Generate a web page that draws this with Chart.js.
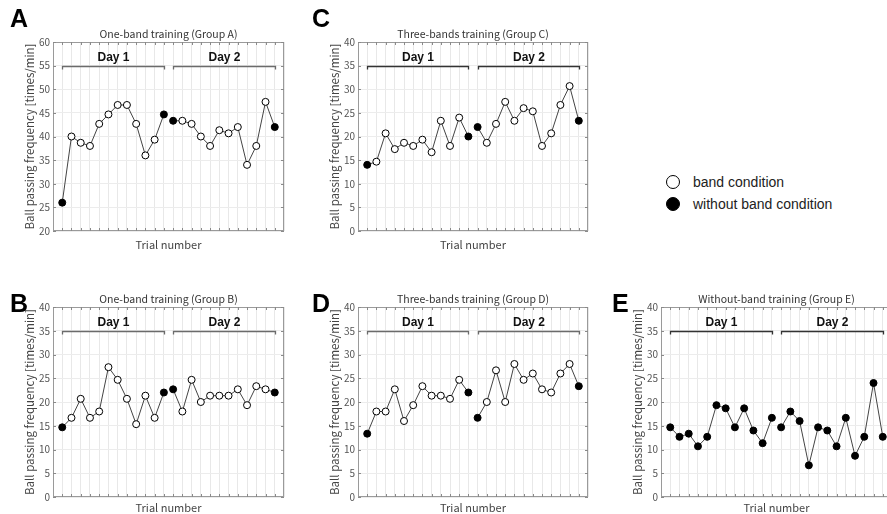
<!DOCTYPE html>
<html><head><meta charset="utf-8">
<script src="https://cdn.jsdelivr.net/npm/chart.js@4.4.0/dist/chart.umd.min.js"></script>
<style>
html,body{margin:0;padding:0;background:#fff;width:887px;height:514px;overflow:hidden;position:relative;}
canvas{position:absolute;}
.leg{position:absolute;left:666px;font-family:"Liberation Sans",Arial,sans-serif;font-size:14px;color:#222;line-height:16px;}
.dot{position:absolute;left:0;top:0;width:12px;height:12px;border-radius:50%;border:1px solid #000;box-sizing:content-box;}
.leg span.t{position:absolute;left:27px;top:-1px;white-space:nowrap;}
</style></head><body>
<div class="leg" style="top:175px"><div class="dot" style="background:#fff"></div><span class="t">band condition</span></div>
<div class="leg" style="top:197px"><div class="dot" style="background:#000"></div><span class="t">without band condition</span></div>
<script>
// ---- data ----
const day1Trials = [1,2,3,4,5,6,7,8,9,10,11,12];
const day2Trials = [13,14,15,16,17,18,19,20,21,22,23,24];
const dayLabels = ["Day 1","Day 2"];
const ticksA = [20,25,30,35,40,45,50,55,60];
const ticksOther = [0,5,10,15,20,25,30,35,40];

const groupA = [26,40,38.67,38,42.67,44.67,46.67,46.67,42.67,36,39.33,44.67,
                43.33,43.33,42.67,40,38,41.33,40.67,42,34,38,47.33,42];
const groupB = [14.67,16.67,20.67,16.67,18,27.33,24.67,20.67,15.33,21.33,16.67,22,
                22.67,18,24.67,20,21.33,21.33,21.33,22.67,19.33,23.33,22.67,22];
const groupC = [14,14.67,20.67,17.33,18.67,18,19.33,16.67,23.33,18,24,20,
                22,18.67,22.67,27.33,23.33,26,25.33,18,20.67,26.67,30.67,23.33];
const groupD = [13.33,18,18,22.67,16,19.33,23.33,21.33,21.33,20.67,24.67,22,
                16.67,20,26.67,20,28,24.67,26,22.67,22,26,28,23.33];
const groupE = [14.67,12.67,13.33,10.67,12.67,19.33,18.67,14.67,18.67,14,11.33,16.67,
                14.67,18,16,6.67,14.67,14,10.67,16.67,8.67,12.67,24,12.67];

// trials performed without the band (filled markers)
const withoutBandABCD = [1,12,13,24];
const withoutBandE = [1,2,3,4,5,6,7,8,9,10,11,12,13,14,15,16,17,18,19,20,21,22,23,24];

const panels = [
  {letter:"A", title:"One-band training (Group A)", values:groupA, filled:withoutBandABCD, yTicks:ticksA, bracket:55, box:{L:53,R:284,T:42,B:231}, xGap:14, bracketColor:"#6b6b6b"},
  {letter:"C", title:"Three-bands training (Group C)", values:groupC, filled:withoutBandABCD, yTicks:ticksOther, bracket:35, box:{L:358,R:588,T:42,B:231}, xGap:14, bracketColor:"#333"},
  {letter:"B", title:"One-band training (Group B)", values:groupB, filled:withoutBandABCD, yTicks:ticksOther, bracket:35, box:{L:53,R:284,T:307,B:497}, xGap:11, bracketColor:"#6b6b6b"},
  {letter:"D", title:"Three-bands training (Group D)", values:groupD, filled:withoutBandABCD, yTicks:ticksOther, bracket:35, box:{L:358,R:588,T:307,B:497}, xGap:11, bracketColor:"#6b6b6b"},
  {letter:"E", title:"Without-band training (Group E)", values:groupE, filled:withoutBandE, yTicks:ticksOther, bracket:35, box:{L:661,R:892,T:307,B:497}, xGap:11, bracketColor:"#333"}
];

const PADL = 53, PADT = 42, PADB = 28, PADR = 6;
const LABEL_FONT = '"Noto Sans CJK JP","DejaVu Sans",sans-serif';

const decor = {
  id: 'decor',
  afterDraw(chart) {
    const p = chart.options.plugins.decor;
    const {ctx, chartArea: a, scales: {x, y}} = chart;
    ctx.save();
    // frame
    ctx.strokeStyle = '#9a9a9a'; ctx.lineWidth = 1;
    ctx.strokeRect(Math.round(a.left)+0.5, Math.round(a.top)+0.5, Math.round(a.right-a.left)-1, Math.round(a.bottom-a.top)-1);
    // inner ticks
    ctx.strokeStyle = '#8a8a8a';
    ctx.beginPath();
    for (const t of day1Trials.concat(day2Trials)) {
      const px = Math.round(x.getPixelForValue(t)) + 0.5;
      ctx.moveTo(px, a.bottom); ctx.lineTo(px, a.bottom - 3);
      ctx.moveTo(px, a.top); ctx.lineTo(px, a.top + 3);
    }
    for (const v of p.yTicks) {
      const py = Math.round(y.getPixelForValue(v)) + 0.5;
      ctx.moveTo(a.left, py); ctx.lineTo(a.left + 3, py);
      ctx.moveTo(a.right, py); ctx.lineTo(a.right - 3, py);
    }
    ctx.stroke();
    // title
    ctx.fillStyle = '#333';
    ctx.font = '10.5px ' + LABEL_FONT;
    ctx.textAlign = 'center'; ctx.textBaseline = 'alphabetic';
    ctx.fillText(p.title, (a.left + a.right) / 2, a.top - 4);
    // panel letter
    ctx.fillStyle = '#000';
    ctx.font = 'bold 25px "Liberation Sans", Arial, sans-serif';
    ctx.textAlign = 'left';
    ctx.fillText(p.letter, p.letterX, p.letterY);
    // day brackets
    const by = Math.round(y.getPixelForValue(p.bracket)) + 0.5;
    const groups = [day1Trials, day2Trials];
    ctx.strokeStyle = p.bracketColor; ctx.lineWidth = 1.3;
    groups.forEach((g, i) => {
      const x0 = Math.round(x.getPixelForValue(g[0])) + 0.5;
      const x1 = Math.round(x.getPixelForValue(g[g.length-1])) + 0.5;
      ctx.beginPath();
      ctx.moveTo(x0, by + 3); ctx.lineTo(x0, by); ctx.lineTo(x1, by); ctx.lineTo(x1, by + 3);
      ctx.stroke();
      ctx.fillStyle = '#111';
      ctx.font = 'bold 12px "Liberation Sans", Arial, sans-serif';
      ctx.textAlign = 'center';
      ctx.fillText(dayLabels[i], (x0 + x1) / 2, by - 6);
    });
    ctx.restore();
  }
};

function pts(trials, vals) { return trials.map((t, i) => ({x: t, y: vals[i]})); }

panels.forEach(pn => {
  const b = pn.box;
  const cv = document.createElement('canvas');
  const cl = b.L - PADL, ct = b.T - PADT;
  const w = b.R - b.L + PADL + PADR, h = b.B - b.T + PADT + PADB;
  cv.width = w; cv.height = h;
  cv.style.left = cl + 'px'; cv.style.top = ct + 'px';
  cv.style.width = w + 'px'; cv.style.height = h + 'px';
  document.body.appendChild(cv);
  const letterPos = {A:[10,27], C:[312,27], B:[10,312], D:[312,312], E:[612,312]}[pn.letter];
  const v1 = pn.values.slice(0, 12), v2 = pn.values.slice(12);
  const mk = (trials) => ({
    pointBackgroundColor: trials.map(t => pn.filled.includes(t) ? '#000' : '#fff'),
    pointBorderColor: '#000'
  });
  const dsBase = {borderColor: '#444', borderWidth: 1, pointRadius: 3.5, pointBorderWidth: 1, pointHoverRadius: 3.5, tension: 0, fill: false};
  const xTitleFont = 11, xLH = xTitleFont * 1.2;
  const yTitleFont = 11.5, yLH = yTitleFont * 1.2;
  new Chart(cv, {
    type: 'line',
    data: {
      datasets: [
        Object.assign({label: dayLabels[0], data: pts(day1Trials, v1)}, dsBase, mk(day1Trials)),
        Object.assign({label: dayLabels[1], data: pts(day2Trials, v2)}, dsBase, mk(day2Trials))
      ]
    },
    options: {
      responsive: false, animation: false, devicePixelRatio: 1,
      layout: {padding: {top: PADT, left: 0, right: PADR, bottom: 0}},
      plugins: {
        legend: {display: false}, tooltip: {enabled: false}, title: {display: false},
        decor: {title: pn.title, letter: pn.letter, letterX: letterPos[0] - cl, letterY: letterPos[1] - ct,
                bracket: pn.bracket, bracketColor: pn.bracketColor, yTicks: pn.yTicks}
      },
      scales: {
        x: {
          type: 'linear', min: 0, max: 25,
          afterFit: s => { s.height = PADB; },
          afterBuildTicks: s => { s.ticks = [0].concat(day1Trials, day2Trials, [25]).map(v => ({value: v})); },
          ticks: {display: false},
          grid: {color: '#e8e8e8', drawTicks: false},
          border: {display: false},
          title: {display: true, text: 'Trial number', color: '#444', font: {size: xTitleFont, family: LABEL_FONT},
                  padding: {top: 0, bottom: PADB - pn.xGap - xLH / 2}}
        },
        y: {
          min: pn.yTicks[0], max: pn.yTicks[pn.yTicks.length - 1],
          afterFit: s => { s.width = PADL; },
          afterBuildTicks: s => { s.ticks = pn.yTicks.map(v => ({value: v})); },
          ticks: {color: '#555', font: {size: 10, family: LABEL_FONT}, padding: 3},
          grid: {color: '#ececec', drawTicks: false},
          border: {display: false},
          title: {display: true, text: 'Ball passing frequency [times/min]', color: '#444', font: {size: yTitleFont, family: LABEL_FONT},
                  padding: {top: 30 - yLH / 2, bottom: 0}}
        }
      }
    },
    plugins: [decor]
  });
});
</script>
</body></html>
